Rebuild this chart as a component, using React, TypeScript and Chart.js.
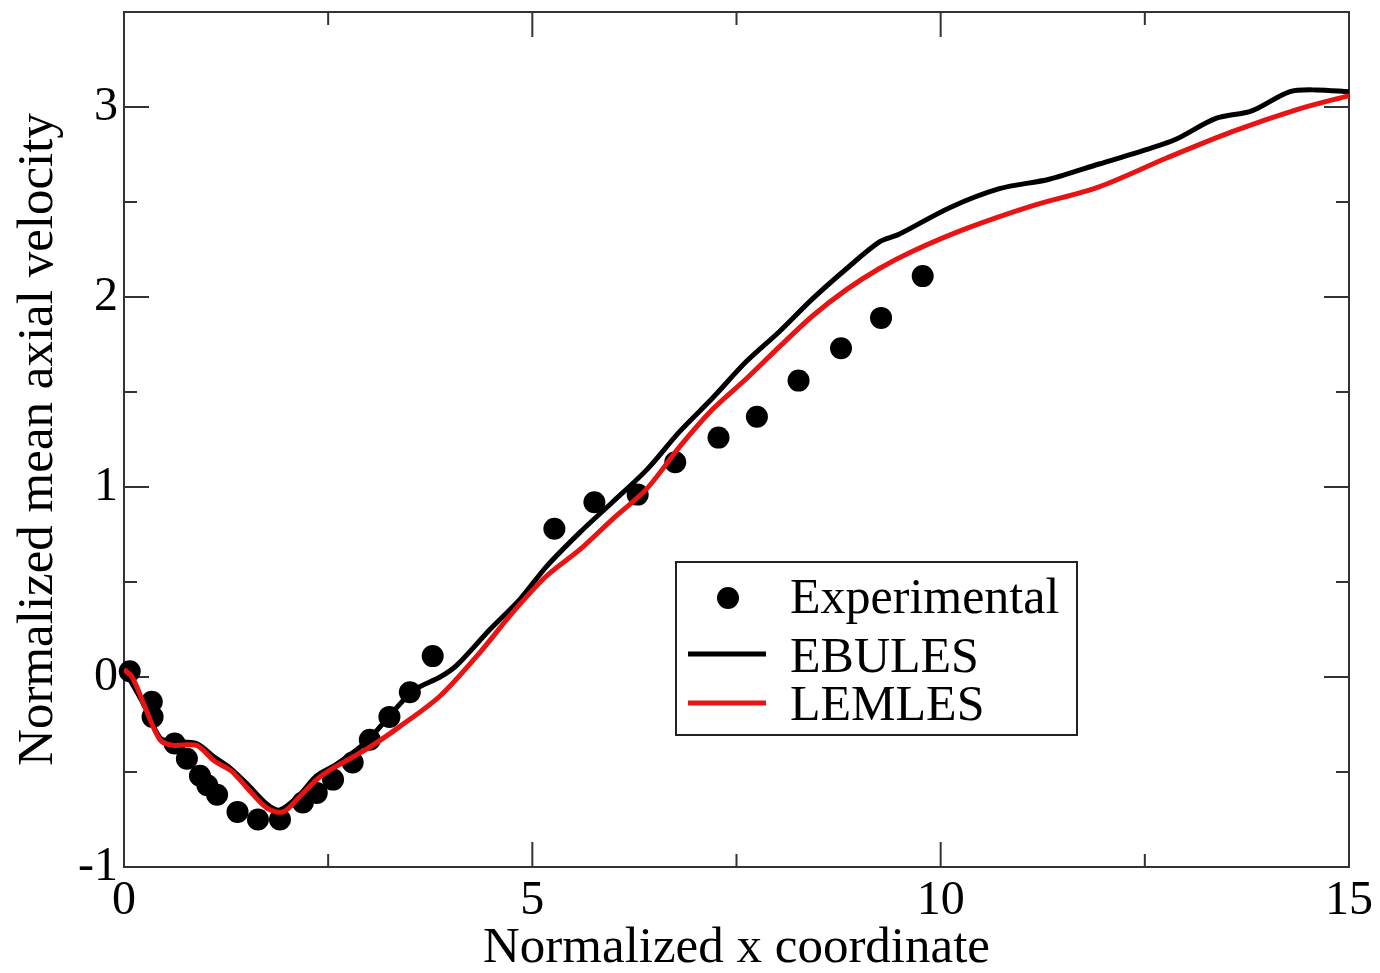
import React, { useEffect, useRef } from "react";
import { Chart, registerables } from "chart.js";

Chart.register(...registerables);

const FONT = '"Liberation Serif", "Times New Roman", serif';

// Experimental data points
const expX = [0.07, 0.34, 0.35, 0.62, 0.77, 0.93, 1.02, 1.14, 1.39, 1.64, 1.91, 2.19, 2.36, 2.56, 2.8, 3.01, 3.25, 3.5, 3.78, 5.27, 5.76, 6.29, 6.75, 7.28, 7.75, 8.26, 8.78, 9.27, 9.78];
const expY = [0.03, -0.13, -0.21, -0.35, -0.43, -0.52, -0.57, -0.62, -0.71, -0.75, -0.75, -0.66, -0.61, -0.54, -0.45, -0.33, -0.21, -0.08, 0.11, 0.78, 0.92, 0.96, 1.13, 1.26, 1.37, 1.56, 1.73, 1.89, 2.11];

// EBULES (black)
const ebX = [0.0, 0.25, 0.44, 0.6, 0.89, 1.1, 1.3, 1.5, 1.75, 1.91, 2.15, 2.36, 2.6, 2.97, 3.3, 3.55, 3.87, 4.07, 4.48, 4.85, 5.17, 5.58, 5.98, 6.4, 6.8, 7.21, 7.62, 8.03, 8.43, 8.85, 9.25, 9.49, 10.11, 10.72, 11.33, 11.94, 12.55, 12.88, 13.37, 13.81, 14.27, 14.6, 15.0];
const ebY = [0.04, -0.15, -0.32, -0.34, -0.35, -0.42, -0.48, -0.56, -0.67, -0.7, -0.62, -0.52, -0.46, -0.34, -0.18, -0.07, 0.0, 0.06, 0.25, 0.41, 0.58, 0.76, 0.92, 1.09, 1.29, 1.47, 1.66, 1.82, 1.99, 2.15, 2.29, 2.33, 2.47, 2.57, 2.62, 2.7, 2.78, 2.83, 2.94, 2.98, 3.08, 3.09, 3.08];

// LEMLES (red)
const lemX = [0.0, 0.1, 0.25, 0.44, 0.6, 0.89, 1.1, 1.26, 1.33, 1.5, 1.75, 1.95, 2.15, 2.36, 2.56, 2.97, 3.38, 3.87, 4.36, 4.76, 5.17, 5.58, 5.98, 6.4, 6.8, 7.21, 7.62, 8.03, 8.43, 8.85, 9.25, 9.65, 10.31, 11.12, 11.94, 12.76, 13.57, 14.39, 15.0];
const lemY = [0.04, 0.0, -0.15, -0.33, -0.36, -0.36, -0.44, -0.48, -0.5, -0.58, -0.69, -0.71, -0.63, -0.54, -0.48, -0.38, -0.26, -0.1, 0.13, 0.34, 0.53, 0.67, 0.83, 0.99, 1.21, 1.41, 1.57, 1.74, 1.9, 2.04, 2.15, 2.24, 2.36, 2.48, 2.58, 2.73, 2.87, 2.99, 3.06];

// Axis ticks
const xTickValues = [0, 5, 10, 15];
const xMinorValues = [2.5, 7.5, 12.5];
const yTickValues = [-1, 0, 1, 2, 3];
const yMinorValues = [-0.5, 0.5, 1.5, 2.5];

const xTitle = "Normalized x coordinate";
const yTitle = "Normalized mean axial velocity";

const toPts = (xs: number[], ys: number[]) => xs.map((x, i) => ({ x, y: ys[i] }));

const framePlugin = {
  id: "frameTicks",
  beforeDatasetsDraw(chart: any) {
    const { ctx, chartArea: a, scales } = chart;
    const xs = scales.x;
    const ys = scales.y;
    ctx.save();
    ctx.strokeStyle = "#333";
    ctx.lineWidth = 2;
    ctx.beginPath();
    const major = 25;
    const minor = 13;
    xTickValues.forEach((v) => {
      const px = xs.getPixelForValue(v);
      ctx.moveTo(px, a.bottom);
      ctx.lineTo(px, a.bottom - major);
      ctx.moveTo(px, a.top);
      ctx.lineTo(px, a.top + major);
    });
    xMinorValues.forEach((v) => {
      const px = xs.getPixelForValue(v);
      ctx.moveTo(px, a.bottom);
      ctx.lineTo(px, a.bottom - minor);
      ctx.moveTo(px, a.top);
      ctx.lineTo(px, a.top + minor);
    });
    yTickValues.forEach((v) => {
      const py = ys.getPixelForValue(v);
      ctx.moveTo(a.left, py);
      ctx.lineTo(a.left + major, py);
      ctx.moveTo(a.right, py);
      ctx.lineTo(a.right - major, py);
    });
    yMinorValues.forEach((v) => {
      const py = ys.getPixelForValue(v);
      ctx.moveTo(a.left, py);
      ctx.lineTo(a.left + minor, py);
      ctx.moveTo(a.right, py);
      ctx.lineTo(a.right - minor, py);
    });
    ctx.stroke();
    ctx.strokeRect(a.left, a.top, a.right - a.left, a.bottom - a.top);
    ctx.restore();
  },
};

const legendPlugin = {
  id: "insideLegend",
  afterDatasetsDraw(chart: any) {
    const { ctx } = chart;
    const ds = chart.data.datasets;
    const x0 = 676, y0 = 562, x1 = 1077, y1 = 735;
    ctx.save();
    ctx.fillStyle = "#fff";
    ctx.fillRect(x0, y0, x1 - x0, y1 - y0);
    ctx.strokeStyle = "#222";
    ctx.lineWidth = 2;
    ctx.strokeRect(x0, y0, x1 - x0, y1 - y0);
    // marker
    ctx.fillStyle = "#000";
    ctx.beginPath();
    ctx.arc(728, 598, 11, 0, Math.PI * 2);
    ctx.fill();
    // lines
    ctx.lineWidth = 5;
    ctx.strokeStyle = ds[1].borderColor;
    ctx.beginPath();
    ctx.moveTo(688, 654);
    ctx.lineTo(766, 654);
    ctx.stroke();
    ctx.strokeStyle = ds[2].borderColor;
    ctx.beginPath();
    ctx.moveTo(688, 703);
    ctx.lineTo(766, 703);
    ctx.stroke();
    ctx.fillStyle = "#000";
    ctx.font = `50px ${FONT}`;
    ctx.textBaseline = "alphabetic";
    ctx.textAlign = "left";
    ctx.fillText(ds[0].label, 790, 613);
    ctx.fillText(ds[1].label, 790, 672);
    ctx.fillText(ds[2].label, 790, 720);
    ctx.restore();
  },
};

export default function App() {
  const ref = useRef<HTMLCanvasElement | null>(null);
  useEffect(() => {
    if (!ref.current) return;
    const chart = new Chart(ref.current, {
      type: "scatter",
      data: {
        datasets: [
          {
            label: "Experimental",
            data: toPts(expX, expY),
            showLine: false,
            pointRadius: 11,
            pointBackgroundColor: "#000",
            pointBorderColor: "#000",
            pointBorderWidth: 0,
            clip: false,
            order: 2,
          } as any,
          {
            label: "EBULES",
            data: toPts(ebX, ebY),
            showLine: true,
            borderColor: "#000",
            borderWidth: 5,
            pointRadius: 0,
            tension: 0.3,
            order: 1,
          },
          {
            label: "LEMLES",
            data: toPts(lemX, lemY),
            showLine: true,
            borderColor: "#e81414",
            borderWidth: 5,
            pointRadius: 0,
            tension: 0.3,
            order: 0,
          },
        ],
      },
      options: {
        animation: false,
        responsive: false,
        layout: { padding: { top: 12, right: 31, left: 0, bottom: 0 } },
        plugins: {
          legend: { display: false },
          tooltip: { enabled: false },
        },
        scales: {
          x: {
            type: "linear",
            min: 0,
            max: 15,
            grid: { display: false, drawTicks: false },
            border: { display: false },
            afterBuildTicks: (s: any) => {
              s.ticks = xTickValues.map((v) => ({ value: v }));
            },
            afterFit: (s: any) => {
              s.height = 106;
              s.paddingLeft = 0;
              s.paddingRight = 0;
            },
            ticks: {
              font: { family: FONT, size: 48 },
              color: "#000",
              padding: 6,
              maxRotation: 0,
            },
            title: {
              display: true,
              text: xTitle,
              color: "#000",
              font: { family: FONT, size: 51 },
              padding: { top: 0, bottom: -6 },
            },
          },
          y: {
            type: "linear",
            min: -1,
            max: 3.5,
            grid: { display: false, drawTicks: false },
            border: { display: false },
            afterBuildTicks: (s: any) => {
              s.ticks = yTickValues.map((v) => ({ value: v }));
            },
            afterFit: (s: any) => {
              s.width = 124;
              s.paddingTop = 0;
              s.paddingBottom = 0;
            },
            ticks: {
              font: { family: FONT, size: 48 },
              color: "#000",
              padding: 6,
            },
            title: {
              display: true,
              text: yTitle,
              color: "#000",
              font: { family: FONT, size: 51 },
              padding: { top: 8, bottom: 0 },
            },
          },
        },
      },
      plugins: [framePlugin, legendPlugin],
    } as any);
    return () => chart.destroy();
  }, []);
  return (
    <div style={{ position: "fixed", left: 0, top: 0, width: 1380, height: 973, background: "#fff" }}>
      <canvas ref={ref} width={1380} height={973} style={{ display: "block" }} />
    </div>
  );
}
